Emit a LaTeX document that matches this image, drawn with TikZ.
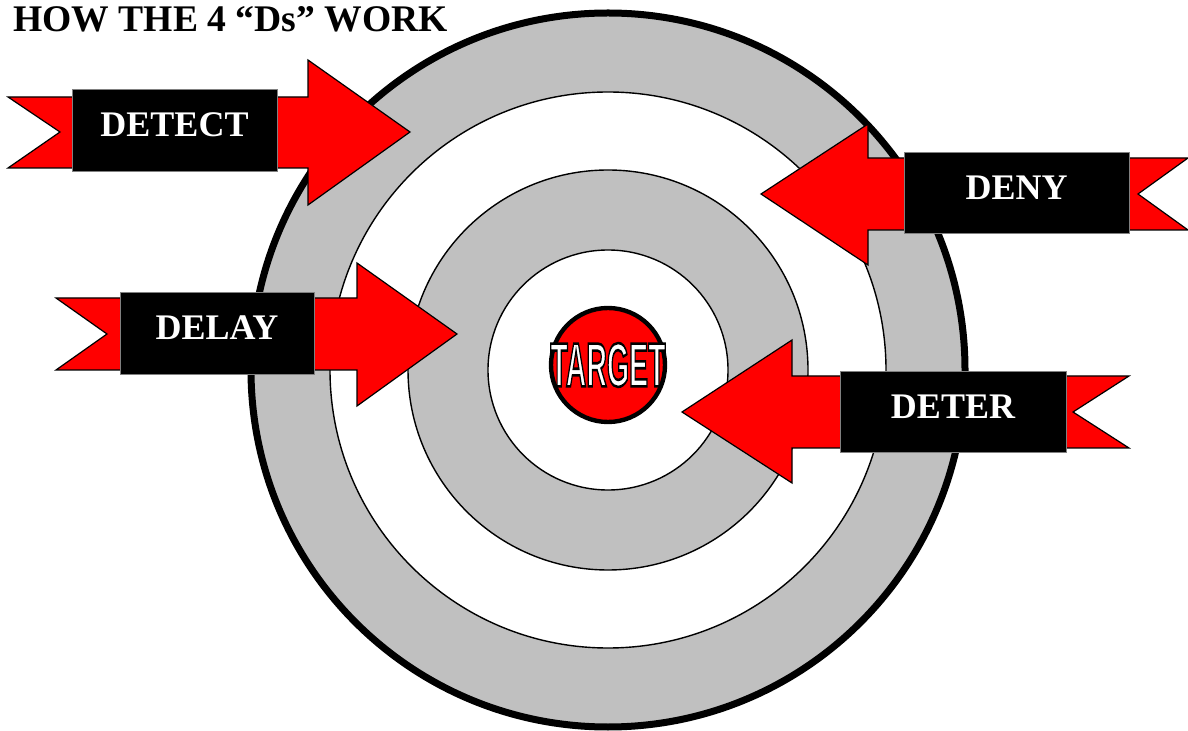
\documentclass[tikz,border=0pt]{standalone}
\usepackage{fontspec}
\setmainfont{Liberation Serif}
\newfontfamily\targetfont{Liberation Sans}
\definecolor{ringgray}{RGB}{192,192,192}
% white letters with a black rim
\newcommand{\rimtext}[1]{\special{pdf:literal direct 2 Tr 1.3 w 0 0 0 RG}#1\special{pdf:literal direct 0 Tr}}

\begin{document}
\begin{tikzpicture}[x=0.5pt,y=-0.5pt,
  ring/.style={fill=ringgray,draw=black,line width=0.7pt},
  hole/.style={fill=white,draw=black,line width=0.7pt},
  darrow/.style={fill=red,draw=black,line width=0.6pt,line join=miter},
  dbox/.style={fill=black,draw=black!50,line width=0.5pt,text=white,inner sep=0pt,
    font=\bfseries\fontsize{18}{18}\selectfont,text depth=6pt}]

\useasboundingbox (0,0) rectangle (1188,731);

% rings
\draw[fill=ringgray,line width=3.5pt] (608,370) circle(357);
\draw[hole] (608,370) circle(278);
\draw[ring] (608,370) circle(200);
\draw[hole] (608,370) circle(120);

% target
\node[circle,fill=red,draw=black,line width=2.2pt,minimum size=57pt] (target) at (608,365) {};
\node[text=white,font=\targetfont\bfseries\fontsize{31}{31}\selectfont] (targettext) at (target)
  {\scalebox{0.46}[1]{\rimtext{TARGET}}};

% DETECT
\draw[darrow] (8,97) -- (308,97) -- (308,60) -- (410,132) -- (308,205) -- (308,168)
  -- (8,168) -- (60,132) -- cycle;
% DELAY
\draw[darrow] (56,298) -- (357,298) -- (357,263) -- (457,334) -- (357,406) -- (357,370)
  -- (56,370) -- (107,334) -- cycle;
% DENY
\draw[darrow] (761,194) -- (868,124) -- (868,158) -- (1188,158) -- (1138,194) -- (1188,230)
  -- (868,230) -- (868,265) -- cycle;
% DETER
\draw[darrow] (682,412) -- (792,340) -- (792,376) -- (1129,376) -- (1073,412) -- (1129,448)
  -- (792,448) -- (792,483) -- cycle;

\node[dbox,minimum width=102.5pt,minimum height=41pt] (detect) at (174.5,131) {DETECT};
\node[dbox,minimum width=97pt,minimum height=41pt] (delay) at (217,334) {DELAY};
\node[dbox,minimum width=112.5pt,minimum height=40.5pt] (deny) at (1016.5,193.5) {DENY};
\node[dbox,minimum width=113pt,minimum height=40.5pt] (deter) at (953,412.5) {DETER};

\node[anchor=base west,inner sep=0pt,font=\bfseries\fontsize{18.8}{18.8}\selectfont] (title)
  at (13,32) {HOW THE 4 “Ds” WORK};

\end{tikzpicture}
\end{document}
